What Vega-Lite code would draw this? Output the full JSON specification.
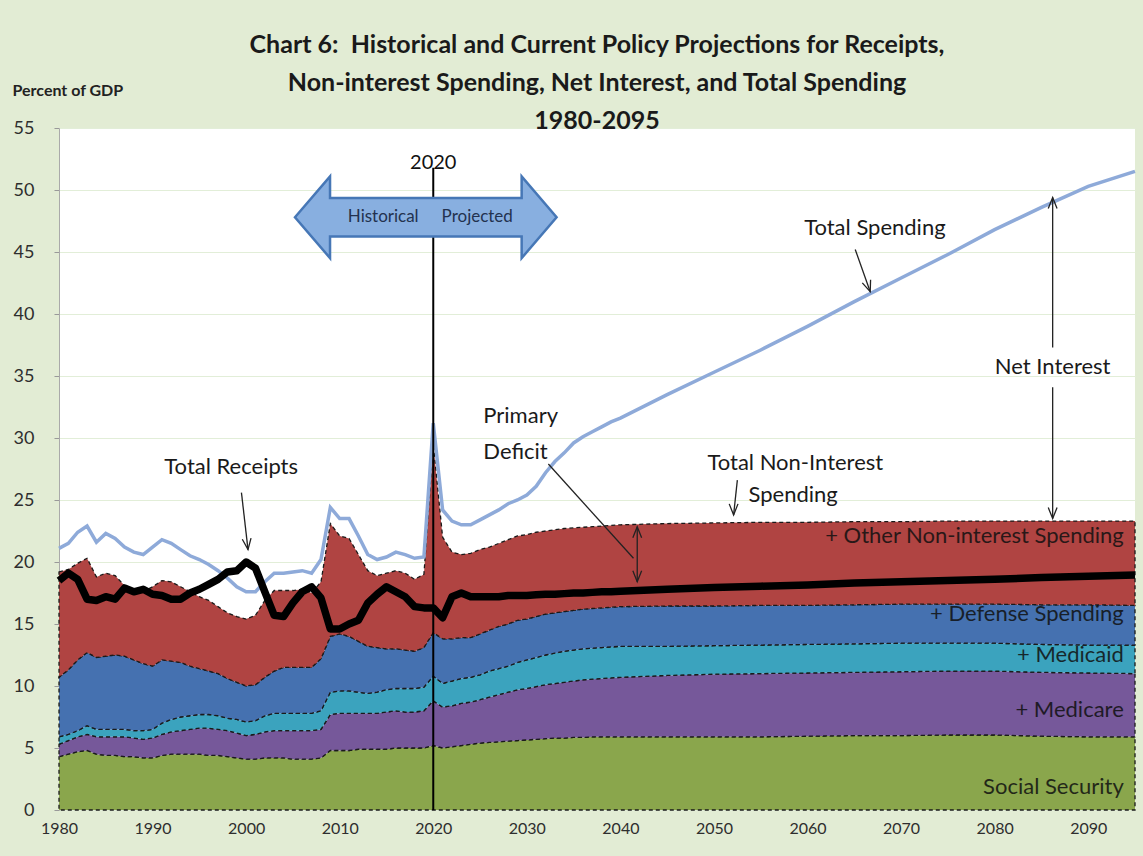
{
  "$schema": "https://vega.github.io/schema/vega-lite/v6.json",
  "width": 1076,
  "height": 682,
  "autosize": {"type": "none"},
  "padding": {"left": 59, "top": 128, "right": 8, "bottom": 46},
  "background": "#e2ecd4",
  "view": {"fill": "white", "stroke": null},
  "title": {
    "text": ["Chart 6:\u00a0 Historical and Current Policy Projections for Receipts,", "Non-interest Spending, Net Interest, and Total Spending", "1980-2095"],
    "anchor": "middle",
    "frame": "group",
    "font": "Lato",
    "fontSize": 25,
    "fontWeight": "bold",
    "color": "#1a1a1a",
    "lineHeight": 38,
    "offset": 0,
    "dy": 52
  },
  "config": {
    "font": "Lato",
    "axis": {"labelFont": "Lato", "titleFont": "Lato"}
  },
  "datasets": {
    "main": [
      {"year": 1980, "a_social_security": 4.3, "b_medicare": 1.0, "c_medicaid": 0.6, "d_defense": 4.8, "e_other": 8.5, "total_spending": 21.1, "total_receipts": 18.5},
      {"year": 1981, "a_social_security": 4.5, "b_medicare": 1.1, "c_medicaid": 0.5, "d_defense": 5.2, "e_other": 8.1, "total_spending": 21.5, "total_receipts": 19.1},
      {"year": 1982, "a_social_security": 4.7, "b_medicare": 1.2, "c_medicaid": 0.5, "d_defense": 5.7, "e_other": 7.8, "total_spending": 22.4, "total_receipts": 18.6},
      {"year": 1983, "a_social_security": 4.8, "b_medicare": 1.3, "c_medicaid": 0.7, "d_defense": 5.9, "e_other": 7.6, "total_spending": 22.9, "total_receipts": 17.0},
      {"year": 1984, "a_social_security": 4.5, "b_medicare": 1.4, "c_medicaid": 0.6, "d_defense": 5.8, "e_other": 6.5, "total_spending": 21.6, "total_receipts": 16.9},
      {"year": 1985, "a_social_security": 4.4, "b_medicare": 1.5, "c_medicaid": 0.6, "d_defense": 5.9, "e_other": 6.7, "total_spending": 22.3, "total_receipts": 17.2},
      {"year": 1986, "a_social_security": 4.4, "b_medicare": 1.5, "c_medicaid": 0.6, "d_defense": 6.0, "e_other": 6.4, "total_spending": 21.9, "total_receipts": 17.0},
      {"year": 1987, "a_social_security": 4.3, "b_medicare": 1.6, "c_medicaid": 0.6, "d_defense": 5.9, "e_other": 5.7, "total_spending": 21.2, "total_receipts": 17.9},
      {"year": 1988, "a_social_security": 4.3, "b_medicare": 1.5, "c_medicaid": 0.6, "d_defense": 5.7, "e_other": 5.7, "total_spending": 20.8, "total_receipts": 17.6},
      {"year": 1989, "a_social_security": 4.2, "b_medicare": 1.5, "c_medicaid": 0.7, "d_defense": 5.4, "e_other": 5.8, "total_spending": 20.6, "total_receipts": 17.8},
      {"year": 1990, "a_social_security": 4.2, "b_medicare": 1.6, "c_medicaid": 0.7, "d_defense": 5.1, "e_other": 6.4, "total_spending": 21.2, "total_receipts": 17.4},
      {"year": 1991, "a_social_security": 4.4, "b_medicare": 1.7, "c_medicaid": 0.9, "d_defense": 5.1, "e_other": 6.4, "total_spending": 21.8, "total_receipts": 17.3},
      {"year": 1992, "a_social_security": 4.5, "b_medicare": 1.8, "c_medicaid": 1.0, "d_defense": 4.7, "e_other": 6.4, "total_spending": 21.5, "total_receipts": 17.0},
      {"year": 1993, "a_social_security": 4.5, "b_medicare": 1.9, "c_medicaid": 1.1, "d_defense": 4.4, "e_other": 6.1, "total_spending": 21.0, "total_receipts": 17.0},
      {"year": 1994, "a_social_security": 4.5, "b_medicare": 2.0, "c_medicaid": 1.1, "d_defense": 4.0, "e_other": 6.0, "total_spending": 20.5, "total_receipts": 17.5},
      {"year": 1995, "a_social_security": 4.5, "b_medicare": 2.1, "c_medicaid": 1.1, "d_defense": 3.7, "e_other": 5.8, "total_spending": 20.2, "total_receipts": 17.8},
      {"year": 1996, "a_social_security": 4.4, "b_medicare": 2.2, "c_medicaid": 1.1, "d_defense": 3.5, "e_other": 5.7, "total_spending": 19.8, "total_receipts": 18.2},
      {"year": 1997, "a_social_security": 4.4, "b_medicare": 2.1, "c_medicaid": 1.1, "d_defense": 3.4, "e_other": 5.4, "total_spending": 19.3, "total_receipts": 18.6},
      {"year": 1998, "a_social_security": 4.3, "b_medicare": 2.1, "c_medicaid": 1.0, "d_defense": 3.2, "e_other": 5.3, "total_spending": 18.7, "total_receipts": 19.2},
      {"year": 1999, "a_social_security": 4.2, "b_medicare": 2.0, "c_medicaid": 1.1, "d_defense": 3.0, "e_other": 5.3, "total_spending": 18.0, "total_receipts": 19.3},
      {"year": 2000, "a_social_security": 4.1, "b_medicare": 1.9, "c_medicaid": 1.1, "d_defense": 2.9, "e_other": 5.4, "total_spending": 17.6, "total_receipts": 20.0},
      {"year": 2001, "a_social_security": 4.1, "b_medicare": 2.0, "c_medicaid": 1.1, "d_defense": 2.9, "e_other": 5.6, "total_spending": 17.6, "total_receipts": 19.5},
      {"year": 2002, "a_social_security": 4.2, "b_medicare": 2.1, "c_medicaid": 1.3, "d_defense": 3.1, "e_other": 6.2, "total_spending": 18.4, "total_receipts": 17.6},
      {"year": 2003, "a_social_security": 4.2, "b_medicare": 2.2, "c_medicaid": 1.4, "d_defense": 3.4, "e_other": 6.5, "total_spending": 19.1, "total_receipts": 15.7},
      {"year": 2004, "a_social_security": 4.2, "b_medicare": 2.2, "c_medicaid": 1.4, "d_defense": 3.7, "e_other": 6.2, "total_spending": 19.1, "total_receipts": 15.6},
      {"year": 2005, "a_social_security": 4.1, "b_medicare": 2.3, "c_medicaid": 1.4, "d_defense": 3.7, "e_other": 6.2, "total_spending": 19.2, "total_receipts": 16.7},
      {"year": 2006, "a_social_security": 4.1, "b_medicare": 2.3, "c_medicaid": 1.4, "d_defense": 3.7, "e_other": 6.3, "total_spending": 19.3, "total_receipts": 17.6},
      {"year": 2007, "a_social_security": 4.1, "b_medicare": 2.3, "c_medicaid": 1.4, "d_defense": 3.7, "e_other": 6.0, "total_spending": 19.1, "total_receipts": 18.0},
      {"year": 2008, "a_social_security": 4.2, "b_medicare": 2.3, "c_medicaid": 1.5, "d_defense": 4.2, "e_other": 6.2, "total_spending": 20.2, "total_receipts": 17.1},
      {"year": 2009, "a_social_security": 4.8, "b_medicare": 2.9, "c_medicaid": 1.8, "d_defense": 4.5, "e_other": 9.1, "total_spending": 24.4, "total_receipts": 14.6},
      {"year": 2010, "a_social_security": 4.8, "b_medicare": 3.0, "c_medicaid": 1.8, "d_defense": 4.6, "e_other": 7.9, "total_spending": 23.5, "total_receipts": 14.6},
      {"year": 2011, "a_social_security": 4.8, "b_medicare": 3.0, "c_medicaid": 1.8, "d_defense": 4.4, "e_other": 7.9, "total_spending": 23.5, "total_receipts": 15.0},
      {"year": 2012, "a_social_security": 4.9, "b_medicare": 2.9, "c_medicaid": 1.7, "d_defense": 4.1, "e_other": 7.0, "total_spending": 22.1, "total_receipts": 15.3},
      {"year": 2013, "a_social_security": 4.9, "b_medicare": 2.9, "c_medicaid": 1.6, "d_defense": 3.8, "e_other": 6.1, "total_spending": 20.6, "total_receipts": 16.7},
      {"year": 2014, "a_social_security": 4.9, "b_medicare": 2.9, "c_medicaid": 1.7, "d_defense": 3.6, "e_other": 5.8, "total_spending": 20.2, "total_receipts": 17.4},
      {"year": 2015, "a_social_security": 4.9, "b_medicare": 3.0, "c_medicaid": 1.8, "d_defense": 3.3, "e_other": 6.1, "total_spending": 20.4, "total_receipts": 18.0},
      {"year": 2016, "a_social_security": 5.0, "b_medicare": 3.0, "c_medicaid": 1.8, "d_defense": 3.2, "e_other": 6.3, "total_spending": 20.8, "total_receipts": 17.6},
      {"year": 2017, "a_social_security": 5.0, "b_medicare": 2.9, "c_medicaid": 1.9, "d_defense": 3.1, "e_other": 6.2, "total_spending": 20.6, "total_receipts": 17.2},
      {"year": 2018, "a_social_security": 5.0, "b_medicare": 2.9, "c_medicaid": 1.9, "d_defense": 3.0, "e_other": 5.8, "total_spending": 20.3, "total_receipts": 16.4},
      {"year": 2019, "a_social_security": 5.0, "b_medicare": 3.0, "c_medicaid": 1.9, "d_defense": 3.2, "e_other": 5.9, "total_spending": 20.4, "total_receipts": 16.3},
      {"year": 2020, "a_social_security": 5.2, "b_medicare": 3.6, "c_medicaid": 2.0, "d_defense": 3.5, "e_other": 15.2, "total_spending": 31.2, "total_receipts": 16.3},
      {"year": 2021, "a_social_security": 5.0, "b_medicare": 3.3, "c_medicaid": 1.9, "d_defense": 3.6, "e_other": 8.2, "total_spending": 24.2, "total_receipts": 15.5},
      {"year": 2022, "a_social_security": 5.1, "b_medicare": 3.3, "c_medicaid": 2.0, "d_defense": 3.4, "e_other": 7.0, "total_spending": 23.3, "total_receipts": 17.2},
      {"year": 2023, "a_social_security": 5.2, "b_medicare": 3.4, "c_medicaid": 2.0, "d_defense": 3.3, "e_other": 6.7, "total_spending": 23.0, "total_receipts": 17.5},
      {"year": 2024, "a_social_security": 5.3, "b_medicare": 3.4, "c_medicaid": 2.0, "d_defense": 3.2, "e_other": 6.8, "total_spending": 23.0, "total_receipts": 17.2},
      {"year": 2025, "a_social_security": 5.4, "b_medicare": 3.5, "c_medicaid": 2.0, "d_defense": 3.3, "e_other": 6.8, "total_spending": 23.4, "total_receipts": 17.2},
      {"year": 2026, "a_social_security": 5.45, "b_medicare": 3.65, "c_medicaid": 2.1, "d_defense": 3.3, "e_other": 6.7, "total_spending": 23.8, "total_receipts": 17.2},
      {"year": 2027, "a_social_security": 5.5, "b_medicare": 3.8, "c_medicaid": 2.1, "d_defense": 3.4, "e_other": 6.7, "total_spending": 24.2, "total_receipts": 17.2},
      {"year": 2028, "a_social_security": 5.55, "b_medicare": 3.95, "c_medicaid": 2.1, "d_defense": 3.4, "e_other": 6.8, "total_spending": 24.7, "total_receipts": 17.3},
      {"year": 2029, "a_social_security": 5.6, "b_medicare": 4.1, "c_medicaid": 2.2, "d_defense": 3.4, "e_other": 6.8, "total_spending": 25.0, "total_receipts": 17.3},
      {"year": 2030, "a_social_security": 5.65, "b_medicare": 4.15, "c_medicaid": 2.3, "d_defense": 3.3, "e_other": 6.8, "total_spending": 25.4, "total_receipts": 17.3},
      {"year": 2031, "a_social_security": 5.7, "b_medicare": 4.25, "c_medicaid": 2.35, "d_defense": 3.3, "e_other": 6.8, "total_spending": 26.1, "total_receipts": 17.35},
      {"year": 2032, "a_social_security": 5.75, "b_medicare": 4.35, "c_medicaid": 2.4, "d_defense": 3.3, "e_other": 6.7, "total_spending": 27.2, "total_receipts": 17.4},
      {"year": 2033, "a_social_security": 5.8, "b_medicare": 4.4, "c_medicaid": 2.45, "d_defense": 3.25, "e_other": 6.7, "total_spending": 28.1, "total_receipts": 17.4},
      {"year": 2034, "a_social_security": 5.8, "b_medicare": 4.5, "c_medicaid": 2.5, "d_defense": 3.2, "e_other": 6.7, "total_spending": 28.8, "total_receipts": 17.45},
      {"year": 2035, "a_social_security": 5.85, "b_medicare": 4.55, "c_medicaid": 2.5, "d_defense": 3.2, "e_other": 6.65, "total_spending": 29.6, "total_receipts": 17.5},
      {"year": 2036, "a_social_security": 5.85, "b_medicare": 4.65, "c_medicaid": 2.5, "d_defense": 3.2, "e_other": 6.6, "total_spending": 30.1, "total_receipts": 17.5},
      {"year": 2037, "a_social_security": 5.9, "b_medicare": 4.65, "c_medicaid": 2.5, "d_defense": 3.2, "e_other": 6.6, "total_spending": 30.5, "total_receipts": 17.55},
      {"year": 2038, "a_social_security": 5.9, "b_medicare": 4.7, "c_medicaid": 2.5, "d_defense": 3.2, "e_other": 6.6, "total_spending": 30.9, "total_receipts": 17.6},
      {"year": 2039, "a_social_security": 5.9, "b_medicare": 4.75, "c_medicaid": 2.5, "d_defense": 3.2, "e_other": 6.6, "total_spending": 31.3, "total_receipts": 17.6},
      {"year": 2040, "a_social_security": 5.9, "b_medicare": 4.8, "c_medicaid": 2.5, "d_defense": 3.2, "e_other": 6.6, "total_spending": 31.6, "total_receipts": 17.65},
      {"year": 2045, "a_social_security": 5.9, "b_medicare": 4.95, "c_medicaid": 2.35, "d_defense": 3.25, "e_other": 6.65, "total_spending": 33.5, "total_receipts": 17.8},
      {"year": 2050, "a_social_security": 5.9, "b_medicare": 5.05, "c_medicaid": 2.3, "d_defense": 3.2, "e_other": 6.7, "total_spending": 35.3, "total_receipts": 17.95},
      {"year": 2055, "a_social_security": 5.9, "b_medicare": 5.1, "c_medicaid": 2.3, "d_defense": 3.2, "e_other": 6.7, "total_spending": 37.1, "total_receipts": 18.05},
      {"year": 2060, "a_social_security": 5.95, "b_medicare": 5.1, "c_medicaid": 2.3, "d_defense": 3.15, "e_other": 6.7, "total_spending": 39.0, "total_receipts": 18.15},
      {"year": 2065, "a_social_security": 6.0, "b_medicare": 5.1, "c_medicaid": 2.3, "d_defense": 3.15, "e_other": 6.7, "total_spending": 41.0, "total_receipts": 18.3},
      {"year": 2070, "a_social_security": 6.0, "b_medicare": 5.15, "c_medicaid": 2.3, "d_defense": 3.15, "e_other": 6.65, "total_spending": 42.9, "total_receipts": 18.4},
      {"year": 2075, "a_social_security": 6.05, "b_medicare": 5.15, "c_medicaid": 2.25, "d_defense": 3.15, "e_other": 6.7, "total_spending": 44.8, "total_receipts": 18.5},
      {"year": 2080, "a_social_security": 6.05, "b_medicare": 5.15, "c_medicaid": 2.25, "d_defense": 3.15, "e_other": 6.7, "total_spending": 46.8, "total_receipts": 18.6},
      {"year": 2085, "a_social_security": 5.95, "b_medicare": 5.15, "c_medicaid": 2.25, "d_defense": 3.2, "e_other": 6.75, "total_spending": 48.6, "total_receipts": 18.75},
      {"year": 2090, "a_social_security": 5.9, "b_medicare": 5.15, "c_medicaid": 2.25, "d_defense": 3.25, "e_other": 6.75, "total_spending": 50.3, "total_receipts": 18.85},
      {"year": 2095, "a_social_security": 5.9, "b_medicare": 5.1, "c_medicaid": 2.3, "d_defense": 3.2, "e_other": 6.8, "total_spending": 51.5, "total_receipts": 18.95}
    ],
    "leaders": [
      {"year": 1999.5, "value": 25.6, "year2": 2000.2, "value2": 21.0},
      {"year": 2032.3, "value": 27.9, "year2": 2041.4, "value2": 20.3},
      {"year": 2041.8, "value": 18.4, "year2": 2041.8, "value2": 22.85},
      {"year": 2052.5, "value": 26.6, "year2": 2052.1, "value2": 23.8},
      {"year": 2065.1, "value": 45.2, "year2": 2066.7, "value2": 41.8},
      {"year": 2086.2, "value": 37.3, "year2": 2086.2, "value2": 49.4},
      {"year": 2086.2, "value": 34.1, "year2": 2086.2, "value2": 23.5}
    ]
  },
  "layer": [
    {
      "data": {"name": "main"},
      "transform": [{"fold": ["a_social_security", "b_medicare", "c_medicaid", "d_defense", "e_other"], "as": ["series", "pct"]}],
      "mark": {"type": "area", "stroke": "#1a1a1a", "strokeWidth": 1.3, "strokeDash": [4, 3], "opacity": 1},
      "encoding": {
        "x": {"field": "year", "type": "quantitative",
              "scale": {"domain": [1980, 2095], "nice": false, "zero": false},
              "axis": {"title": null, "values": [1980, 1990, 2000, 2010, 2020, 2030, 2040, 2050, 2060, 2070, 2080, 2090], "format": "d", "grid": false, "ticks": false, "domain": false, "labelFlush": false, "labelFontSize": 16, "labelColor": "#2e2e2e", "labelPadding": 10}},
        "y": {"field": "pct", "type": "quantitative", "stack": "zero",
              "scale": {"domain": [0, 55], "nice": false},
              "axis": {"title": "Percent of GDP", "titleAngle": 0, "titleAlign": "left", "titleBaseline": "middle", "titleX": -47, "titleY": -38, "titleFontSize": 16, "titleFontWeight": "bold", "titleColor": "#222222",
                       "values": [0, 5, 10, 15, 20, 25, 30, 35, 40, 45, 50, 55], "labelFontSize": 18, "labelColor": "#2e2e2e", "labelPadding": 20, "labelFlush": false, "tickSize": 5, "tickColor": "#999999", "domainColor": "#aaaaaa", "grid": true, "gridColor": "#e2eed8", "gridWidth": 1.2}},
        "color": {"field": "series", "type": "nominal",
                  "scale": {"domain": ["a_social_security", "b_medicare", "c_medicaid", "d_defense", "e_other"], "range": ["#8aa64c", "#76589a", "#3ba3be", "#4571b0", "#b04442"]},
                  "legend": null},
        "order": {"field": "series", "sort": "ascending"}
      }
    },
    {
      "data": {"name": "main"},
      "mark": {"type": "line", "color": "#8eaad9", "strokeWidth": 3.5},
      "encoding": {
        "x": {"field": "year", "type": "quantitative"},
        "y": {"field": "total_spending", "type": "quantitative"}
      }
    },
    {
      "data": {"name": "main"},
      "mark": {"type": "line", "color": "#000000", "strokeWidth": 7.5, "strokeJoin": "round"},
      "encoding": {
        "x": {"field": "year", "type": "quantitative"},
        "y": {"field": "total_receipts", "type": "quantitative"}
      }
    },
    {
      "data": {"values": [{"year": 2020, "value": 0, "value2": 51.8}]},
      "mark": {"type": "rule", "color": "#000000", "strokeWidth": 2},
      "encoding": {
        "x": {"field": "year", "type": "quantitative"},
        "y": {"field": "value", "type": "quantitative"},
        "y2": {"field": "value2"}
      }
    },
    {
      "data": {"values": [{"year": 2019.2, "value": 47.8}]},
      "mark": {"type": "point", "shape": "M-1,0L-0.732,-0.312L-0.732,-0.147L0.733,-0.147L0.733,-0.312L1,0L0.733,0.312L0.733,0.147L-0.732,0.147L-0.732,0.312Z", "size": 68434, "filled": true, "fill": "#88afe0", "stroke": "#4677b6", "strokeWidth": 2.5, "opacity": 1, "fillOpacity": 1, "strokeOpacity": 1},
      "encoding": {
        "x": {"field": "year", "type": "quantitative"},
        "y": {"field": "value", "type": "quantitative"}
      }
    },
    {
      "data": {"values": [{"label": "Historical", "year": 2014.65, "value": 47.8}, {"label": "Projected", "year": 2024.7, "value": 47.8}]},
      "mark": {"type": "text", "fontSize": 17, "color": "#23324f", "font": "Lato", "baseline": "middle", "align": "center"},
      "encoding": {
        "x": {"field": "year", "type": "quantitative"},
        "y": {"field": "value", "type": "quantitative"},
        "text": {"field": "label"}
      }
    },
    {
      "data": {"values": [{"label": "2020", "year": 2020, "value": 52.2}]},
      "mark": {"type": "text", "fontSize": 20, "color": "#111111", "font": "Lato", "baseline": "middle", "align": "center"},
      "encoding": {
        "x": {"field": "year", "type": "quantitative"},
        "y": {"field": "value", "type": "quantitative"},
        "text": {"field": "label"}
      }
    },
    {
      "data": {"name": "leaders"},
      "mark": {"type": "rule", "color": "#222222", "strokeWidth": 1.3},
      "encoding": {
        "x": {"field": "year", "type": "quantitative"},
        "y": {"field": "value", "type": "quantitative"},
        "x2": {"field": "year2"},
        "y2": {"field": "value2"}
      }
    },
    {
      "data": {"values": [{"year": 2052.1, "value": 23.8}, {"year": 2086.2, "value": 23.5}, {"year": 2041.8, "value": 18.4}]},
      "mark": {"type": "point", "shape": "M-0.4,-1L0,0L0.4,-1", "size": 484, "filled": false, "stroke": "#222222", "strokeWidth": 1.3, "opacity": 1},
      "encoding": {
        "x": {"field": "year", "type": "quantitative"},
        "y": {"field": "value", "type": "quantitative"}
      }
    },
    {
      "data": {"values": [{"year": 2086.2, "value": 49.4}, {"year": 2041.8, "value": 22.85}]},
      "mark": {"type": "point", "shape": "M-0.4,-1L0,0L0.4,-1", "size": 484, "angle": 180, "filled": false, "stroke": "#222222", "strokeWidth": 1.3, "opacity": 1},
      "encoding": {
        "x": {"field": "year", "type": "quantitative"},
        "y": {"field": "value", "type": "quantitative"}
      }
    },
    {
      "data": {"values": [{"year": 2000.2, "value": 21.0}]},
      "mark": {"type": "point", "shape": "M-0.4,-1L0,0L0.4,-1", "size": 484, "angle": -7, "filled": false, "stroke": "#222222", "strokeWidth": 1.3, "opacity": 1},
      "encoding": {
        "x": {"field": "year", "type": "quantitative"},
        "y": {"field": "value", "type": "quantitative"}
      }
    },
    {
      "data": {"values": [{"year": 2066.7, "value": 41.8}]},
      "mark": {"type": "point", "shape": "M-0.4,-1L0,0L0.4,-1", "size": 484, "angle": -20, "filled": false, "stroke": "#222222", "strokeWidth": 1.3, "opacity": 1},
      "encoding": {
        "x": {"field": "year", "type": "quantitative"},
        "y": {"field": "value", "type": "quantitative"}
      }
    },
    {
      "data": {"values": [
        {"label": "Total Receipts", "year": 1998.4, "value": 27.7},
        {"label": "Total Spending", "year": 2067.2, "value": 46.9},
        {"label": "Net Interest", "year": 2086.2, "value": 35.7}
      ]},
      "mark": {"type": "text", "fontSize": 22, "color": "#1a1a1a", "font": "Lato", "baseline": "middle", "align": "center"},
      "encoding": {
        "x": {"field": "year", "type": "quantitative"},
        "y": {"field": "value", "type": "quantitative"},
        "text": {"field": "label"}
      }
    },
    {
      "data": {"values": [
        {"label": "Primary", "year": 2025.35, "value": 31.8},
        {"label": "Deficit", "year": 2025.35, "value": 28.9},
        {"label": "Total Non-Interest", "year": 2049.3, "value": 28.0},
        {"label": "Spending", "year": 2053.7, "value": 25.4}
      ]},
      "mark": {"type": "text", "fontSize": 22, "color": "#1a1a1a", "font": "Lato", "baseline": "middle", "align": "left"},
      "encoding": {
        "x": {"field": "year", "type": "quantitative"},
        "y": {"field": "value", "type": "quantitative"},
        "text": {"field": "label"}
      }
    },
    {
      "data": {"values": [
        {"label": "+ Other Non-interest Spending", "year": 2093.8, "value": 22.1},
        {"label": "+ Defense Spending", "year": 2093.8, "value": 15.8},
        {"label": "+ Medicaid", "year": 2093.8, "value": 12.5},
        {"label": "+  Medicare", "year": 2093.8, "value": 8.06},
        {"label": "Social Security", "year": 2093.8, "value": 1.85}
      ]},
      "mark": {"type": "text", "fontSize": 22, "color": "#111111", "opacity": 0.85, "font": "Lato", "baseline": "middle", "align": "right"},
      "encoding": {
        "x": {"field": "year", "type": "quantitative"},
        "y": {"field": "value", "type": "quantitative"},
        "text": {"field": "label"}
      }
    }
  ]
}
